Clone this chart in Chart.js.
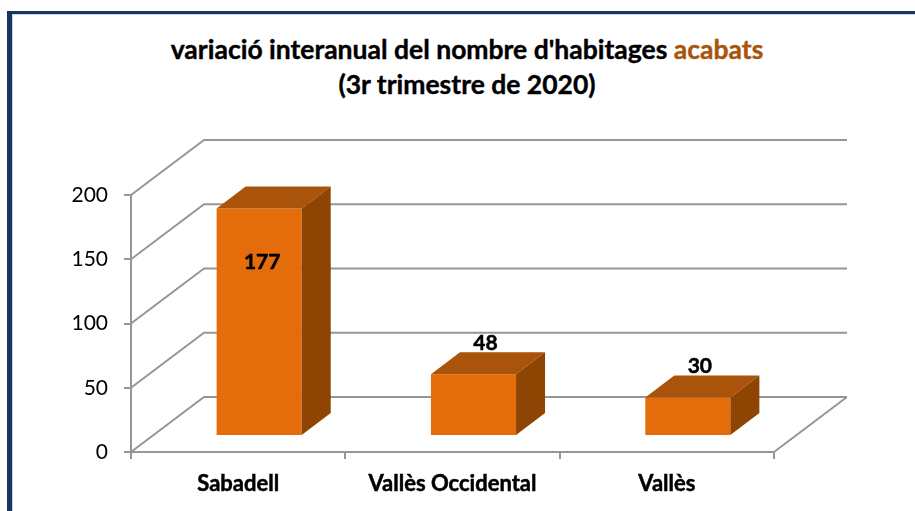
<!DOCTYPE html>
<html lang="ca">
<head>
<meta charset="utf-8">
<title>variació interanual del nombre d'habitages acabats</title>
<script src="https://cdn.jsdelivr.net/npm/chart.js@4/dist/chart.umd.min.js"></script>
<style>
    html, body { margin: 0; padding: 0; background: #fff; width: 915px; height: 511px; overflow: hidden; }
    #frame { position: absolute; left: 7px; top: 11px; width: 915px; height: 520px; border-left: 5px solid #17375e; border-top: 3px solid #17375e; box-shadow: inset 1px 1px 0 #c6d4e6; }
    #titol { position: absolute; left: 0; top: 32px; width: 934px; text-align: center; font: bold 26.5px/35px Lato, sans-serif; color: #000; -webkit-text-stroke: 0.4px #000; }
    #titol span { color: #a9540a; -webkit-text-stroke: 0.4px #a9540a; }
    canvas { position: absolute; left: 0; top: 0; }
</style>
</head>
<body>
<div id="frame"></div>
<div id="titol">variació interanual del nombre d'habitages <span>acabats</span><br>(3r trimestre de 2020)</div>
<canvas id="grafic" width="915" height="511"></canvas>
<script>
// Dades del gràfic
const categories = ["Sabadell", "Vallès Occidental", "Vallès"];
const habitatges = [177, 48, 30];
const ticksY = [0, 50, 100, 150, 200];

// Colors
const colorFront = "#e46c0a";
const colorTop = "#a9540a";
const colorSide = "#8e4403";
const colorGrid = "#969696";

// Perspectiva de la caixa 3D
const fonsX = 73, fonsY = -55;     // paret del fons
const barraX = 21, barraY = -16;   // desplaçament de la cara frontal
const gruixX = 29, gruixY = -22;   // gruix de les barres

function linia(ctx, punts) {
    ctx.beginPath();
    punts.forEach((p, i) => i ? ctx.lineTo(p[0], p[1]) : ctx.moveTo(p[0], p[1]));
    ctx.stroke();
}

function poligon(ctx, punts, color) {
    ctx.beginPath();
    punts.forEach((p, i) => i ? ctx.lineTo(p[0], p[1]) : ctx.moveTo(p[0], p[1]));
    ctx.closePath();
    ctx.fillStyle = color;
    ctx.fill();
}

// Parets i terra, a partir de les escales
const caixa3D = {
    id: "caixa3D",
    beforeDatasetsDraw(chart) {
        const { ctx, chartArea: a, scales: { y } } = chart;
        ctx.save();
        ctx.strokeStyle = colorGrid;
        ctx.lineWidth = 2;
        ticksY.forEach(v => {
            const py = y.getPixelForValue(v);
            linia(ctx, [[a.left, py], [a.left + fonsX, py + fonsY], [a.right + fonsX, py + fonsY]]);
        });
        linia(ctx, [[a.right, a.bottom], [a.right + fonsX, a.bottom + fonsY]]);
        ctx.restore();
    },
    // la cara frontal la dibuixa Chart.js, només la desplacem
    beforeDatasetDraw(chart) {
        chart.ctx.save();
        chart.ctx.translate(barraX, barraY);
    },
    afterDatasetDraw(chart) {
        chart.ctx.restore();
    },
    afterDatasetsDraw(chart) {
        const ctx = chart.ctx;
        chart.getDatasetMeta(0).data.forEach((bar, i) => {
            const l = bar.x - bar.width / 2 + barraX;
            const r = bar.x + bar.width / 2 + barraX;
            const t = bar.y + barraY;
            const b = bar.base + barraY;
            poligon(ctx, [[l, t], [l + gruixX, t + gruixY], [r + gruixX, t + gruixY], [r, t]], colorTop);
            poligon(ctx, [[r, t], [r + gruixX, t + gruixY], [r + gruixX, b + gruixY], [r, b]], colorSide);

            // Etiqueta de valor
            ctx.save();
            ctx.font = "bold 21px Lato, sans-serif";
            ctx.fillStyle = "#000";
            ctx.strokeStyle = "#000";
            ctx.lineWidth = 0.5;
            ctx.textAlign = "center";
            ctx.textBaseline = "middle";
            const tx = habitatges[i] > 100 ? bar.x + barraX + 3 : bar.x + barraX + 12;
            const ty = habitatges[i] > 100 ? t + 54 : t + gruixY - 9;
            ctx.fillText(habitatges[i], tx, ty);
            ctx.strokeText(habitatges[i], tx, ty);
            ctx.restore();
        });
    }
};

new Chart(document.getElementById("grafic"), {
    type: "bar",
    data: {
        labels: categories,
        datasets: [{
            data: habitatges,
            backgroundColor: colorFront,
            categoryPercentage: 1,
            barPercentage: 0.397,
            clip: false
        }]
    },
    options: {
        responsive: false,
        animation: false,
        layout: { padding: { left: 0, right: 141, top: 195, bottom: 0 } },
        plugins: { legend: { display: false }, title: { display: false }, tooltip: { enabled: false } },
        scales: {
            x: {
                afterFit: scale => { scale.height = 59; },
                border: { color: colorGrid, width: 2 },
                grid: { drawOnChartArea: false, color: colorGrid, lineWidth: 2, tickLength: 7 },
                ticks: {
                    color: "#000", padding: 12, maxRotation: 0,
                    textStrokeColor: "#000", textStrokeWidth: 0.5,
                    font: { family: "Lato, sans-serif", size: 22, weight: "bold" }
                }
            },
            y: {
                min: 0,
                max: 200,
                afterFit: scale => { scale.width = 131; },
                afterBuildTicks: scale => { scale.ticks = ticksY.map(v => ({ value: v })); },
                border: { color: colorGrid, width: 2 },
                grid: { drawOnChartArea: false, color: colorGrid, lineWidth: 2, tickLength: 7 },
                ticks: { color: "#000", padding: 16, font: { family: "Lato, sans-serif", size: 21 } }
            }
        }
    },
    plugins: [caixa3D]
});
</script>
</body>
</html>
